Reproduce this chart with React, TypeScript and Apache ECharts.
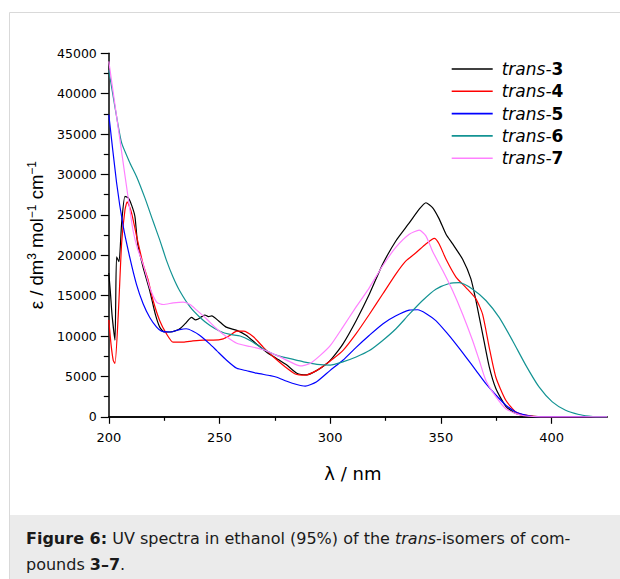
import { useEffect, useRef } from 'react';
import * as echarts from 'echarts';

const seriesNames = ['trans-3', 'trans-4', 'trans-5', 'trans-6', 'trans-7'];
const seriesColors = ['#000000', '#ff0000', '#0000ff', '#139393', '#ff80ff'];

const majorXTicks = [200, 250, 300, 350, 400];
const minorXTicks = [225, 275, 325, 375];

const trans3: number[][] = [
  [200, 17800], [200.7, 15500], [201.5, 12500], [202.8, 9500], [203.5, 19800], [204.6, 19200],
  [205.8, 24000], [207.3, 27300], [208.8, 27100], [210.3, 26200], [211.8, 24800], [213, 21500],
  [215.5, 18500], [218.5, 15600], [221, 12700], [223, 11100], [225, 10500], [227.6, 10500],
  [230.6, 10700], [232.5, 11000], [234.4, 11500], [237.4, 12300], [239, 12000], [240.4, 12100],
  [242, 12400], [243.4, 12600], [245, 12400], [246.5, 12500], [249.5, 11900], [253, 11100],
  [257.8, 10700], [262, 10100], [266.8, 9000], [271.3, 8000], [275.9, 7200], [280.4, 6400],
  [284.9, 5400], [289.4, 5200], [294, 5750], [298.5, 6600], [301, 7300], [305.7, 9000],
  [311.7, 11900], [317.7, 15200], [323.7, 18900], [329.7, 21800], [335.7, 24000], [340.2, 25700],
  [343.2, 26500], [346.2, 25900], [349.2, 24500], [352.3, 22600], [355.3, 21400], [359.8, 19500],
  [363.5, 17100], [365.8, 14400], [368.8, 10300], [371.8, 6200], [374.8, 3500], [379.3, 1300],
  [383.8, 400], [389.8, 80], [400, 0], [425, 0],
];

const trans4: number[][] = [
  [200, 12000], [201, 9000], [202, 7000], [202.8, 6600], [204.3, 12800], [205.8, 21500],
  [207.3, 25600], [208.3, 26600], [209.5, 25900], [210.5, 25000], [212.6, 22300], [215.5, 18900],
  [217.8, 16900], [220, 14400], [223, 11900], [226, 10300], [229, 9250], [233.6, 9250],
  [238, 9400], [242.7, 9500], [247.2, 9500], [251.7, 9650], [254.8, 10100], [257.8, 10600],
  [260.8, 10600], [265.3, 9900], [269.8, 8600], [274.4, 7400], [279.6, 6200], [284.2, 5300],
  [288.7, 5150], [294, 5750], [298.5, 6600], [300, 6900], [305.7, 8200], [311.7, 10300],
  [317.7, 12700], [323.7, 15200], [329.7, 17700], [334.2, 19300], [338.7, 20300], [343.2, 21400],
  [347, 22100], [349.2, 21400], [352.3, 19500], [356.8, 17300], [361.3, 16000], [365.8, 14600],
  [368.8, 12700], [371.8, 8600], [374.8, 4900], [379.3, 2050], [383.8, 600], [388.3, 200],
  [395, 0], [425, 0],
];

const trans5: number[][] = [
  [200, 37400], [203.5, 29000], [206.5, 23600], [209.5, 19700], [212.5, 16400], [215.5, 14000],
  [218.5, 12300], [221.6, 11100], [223.8, 10600], [227.6, 10500], [232, 10800], [235, 10900],
  [238, 10600], [241, 10100], [245.7, 9000], [248.7, 8200], [253.2, 7000], [257.8, 6000],
  [262.3, 5700], [266.8, 5400], [272.9, 5100], [275.9, 4900], [280.4, 4400], [284.9, 4000],
  [288.7, 3800], [293.7, 4300], [300, 5750], [305.7, 7000], [311.7, 8600], [317.7, 10100],
  [323.7, 11500], [329.7, 12500], [335.7, 13200], [339.5, 13250], [343.2, 12800], [347.7, 11900],
  [352.3, 10500], [356.8, 9000], [361.3, 7400], [365.8, 5750], [370.3, 4100], [374.8, 2700],
  [379.3, 1450], [383.8, 600], [388.3, 200], [392.8, 0], [425, 0],
];

const trans6: number[][] = [
  [200, 42900], [203, 38000], [205.8, 33900], [209.6, 31400], [212.6, 29700], [216.3, 27100],
  [220, 24200], [223, 21900], [226, 19400], [229, 17300], [232, 15600], [236.7, 13600],
  [241.2, 12300], [245.7, 11300], [250.2, 10600], [254.8, 10200], [259.3, 10000], [263.8, 9450],
  [269.8, 8400], [275.9, 7600], [281.9, 7200], [287.9, 6800], [294, 6500], [300, 6400],
  [305.7, 6800], [311.7, 7400], [317.7, 8200], [323.7, 9450], [329.7, 10900], [335.7, 12700],
  [341.7, 14400], [347.7, 15800], [353.8, 16500], [358.3, 16600], [364.3, 15800], [370.3, 14400],
  [376.3, 12300], [382.3, 9450], [388.3, 6400], [394.3, 3700], [400.3, 1850], [406.3, 820],
  [412.3, 290], [416.8, 80], [420, 0], [425, 0],
];

const trans7: number[][] = [
  [200, 44000], [203, 38200], [206, 32400], [209, 26600], [211, 23000], [213, 20800],
  [215.5, 18900], [218.5, 16000], [221.6, 14200], [224.6, 13900], [229.1, 14100], [233.6, 14200],
  [236.7, 13900], [239.7, 13200], [244.2, 12100], [248.7, 10900], [253.2, 9900], [257.8, 9100],
  [263.8, 8700], [269.8, 8300], [275.9, 7600], [281.9, 6800], [286.4, 6300], [290.9, 6600],
  [295.5, 7600], [300, 8800], [305.7, 11100], [311.7, 13600], [317.7, 16000], [323.7, 18700],
  [329.7, 21000], [335.7, 22600], [340.2, 23100], [343.2, 22400], [346.2, 20500], [350.8, 18100],
  [355.3, 15600], [359.8, 12700], [364.3, 9450], [367.3, 7000], [370.3, 4500], [374.8, 2500],
  [379.3, 1000], [383.8, 400], [388.3, 100], [395, 0], [425, 0],
];

const seriesData = [trans3, trans4, trans5, trans6, trans7];

const captionText =
  '{b|Figure 6:} UV spectra in ethanol (95%) of the {i|trans}-isomers of com-\npounds {b|3–7}.';

export default function App() {
  const ref = useRef<HTMLDivElement>(null);
  useEffect(() => {
    document.body.style.margin = '0';
    const chart = echarts.init(ref.current!, undefined, { renderer: 'svg' });
    const font = 'DejaVu Sans';
    const capFont = 16;
    chart.setOption({
      animation: false,
      backgroundColor: '#ffffff',
      grid: { left: 108.8, right: 13, top: 53.3, bottom: 162.2 },
      legend: {
        orient: 'vertical',
        left: 451.7,
        top: 60.5,
        padding: 0,
        itemWidth: 41,
        itemHeight: 1.6,
        itemGap: 5.3,
        icon: 'rect',
        selectedMode: false,
        data: seriesNames,
        formatter: (name: string) => `{i|trans-}{b|${name.split('-')[1]}}`,
        textStyle: {
          fontFamily: font,
          fontSize: 17,
          color: '#000',
          rich: {
            i: { fontFamily: font, fontSize: 17, fontStyle: 'italic', color: '#000', padding: [0, 0, 0, 4] },
            b: { fontFamily: font, fontSize: 17, fontWeight: 'bold', color: '#000' },
          },
        },
      },
      xAxis: [
        {
          type: 'value',
          min: 200,
          max: 425,
          interval: 50,
          name: 'λ / nm',
          nameLocation: 'middle',
          nameGap: 48,
          nameTextStyle: { fontFamily: font, fontSize: 18, color: '#000', padding: [0, 10, 0, 0] },
          axisLine: { onZero: false, lineStyle: { color: '#000', width: 1.5 } },
          axisTick: { length: 7, customValues: majorXTicks, lineStyle: { color: '#000', width: 1.2 } },
          axisLabel: { fontFamily: font, fontSize: 13, color: '#000', margin: 14, customValues: majorXTicks },
          splitLine: { show: false },
        },
        {
          type: 'value',
          min: 200,
          max: 425,
          interval: 25,
          position: 'bottom',
          axisLine: { show: true, onZero: false, lineStyle: { color: '#000', width: 1.5 } },
          axisTick: { show: true, length: 4, customValues: minorXTicks, lineStyle: { color: '#000', width: 1.2 } },
          axisLabel: { show: false },
          splitLine: { show: false },
        },
      ],
      yAxis: {
        type: 'value',
        min: 0,
        max: 45000,
        interval: 5000,
        name: '{n|ε / dm}{s|3}{n| mol}{s|−1}{n| cm}{s|−1}',
        nameLocation: 'middle',
        nameRotate: 90,
        nameGap: 52,
        nameTextStyle: {
          fontFamily: 'Liberation Sans',
          fontSize: 18.5,
          color: '#000',
          rich: {
            n: { fontFamily: 'Liberation Sans', fontSize: 18.5, color: '#000', lineHeight: 22 },
            s: { fontFamily: 'Liberation Sans', fontSize: 12, color: '#000', lineHeight: 12, verticalAlign: 'top' },
          },
        },
        axisLine: { show: true, onZero: false, lineStyle: { color: '#000', width: 1.5 } },
        axisTick: { show: true, length: 8, lineStyle: { color: '#000', width: 1.2 } },
        minorTick: { show: true, splitNumber: 2, length: 5, lineStyle: { color: '#000', width: 1.2 } },
        axisLabel: {
          fontFamily: font,
          fontSize: 12.5,
          color: '#000',
          margin: 12,
          formatter: (v: number) => String(v),
        },
        splitLine: { show: false },
      },
      series: seriesNames.map((name, i) => ({
        name,
        type: 'line',
        xAxisIndex: 0,
        data: seriesData[i],
        showSymbol: false,
        symbol: 'none',
        smooth: 0.2,
        color: seriesColors[i],
        lineStyle: { color: seriesColors[i], width: 1.2 },
        z: 2 + i,
      })),
      graphic: [
        {
          type: 'rect',
          silent: true,
          z: -10,
          shape: { x: 9.5, y: 12.5, width: 700, height: 700 },
          style: { fill: 'none', stroke: '#d9d9d9', lineWidth: 1 },
        },
        {
          type: 'rect',
          silent: true,
          z: -9,
          shape: { x: 10, y: 515, width: 612, height: 64 },
          style: { fill: '#ebebeb' },
        },
        {
          type: 'text',
          x: 26,
          y: 525,
          silent: true,
          style: {
            text: captionText,
            fontFamily: font,
            fontSize: capFont,
            lineHeight: 26,
            fill: '#1a1a1a',
            rich: {
              b: { fontFamily: font, fontSize: capFont, fontWeight: 'bold', fill: '#1a1a1a', lineHeight: 26 },
              i: { fontFamily: font, fontSize: capFont, fontStyle: 'italic', fill: '#1a1a1a', lineHeight: 26 },
            },
          },
        },
      ],
    });
    return () => chart.dispose();
  }, []);
  return <div ref={ref} style={{ width: 620, height: 579 }} />;
}
